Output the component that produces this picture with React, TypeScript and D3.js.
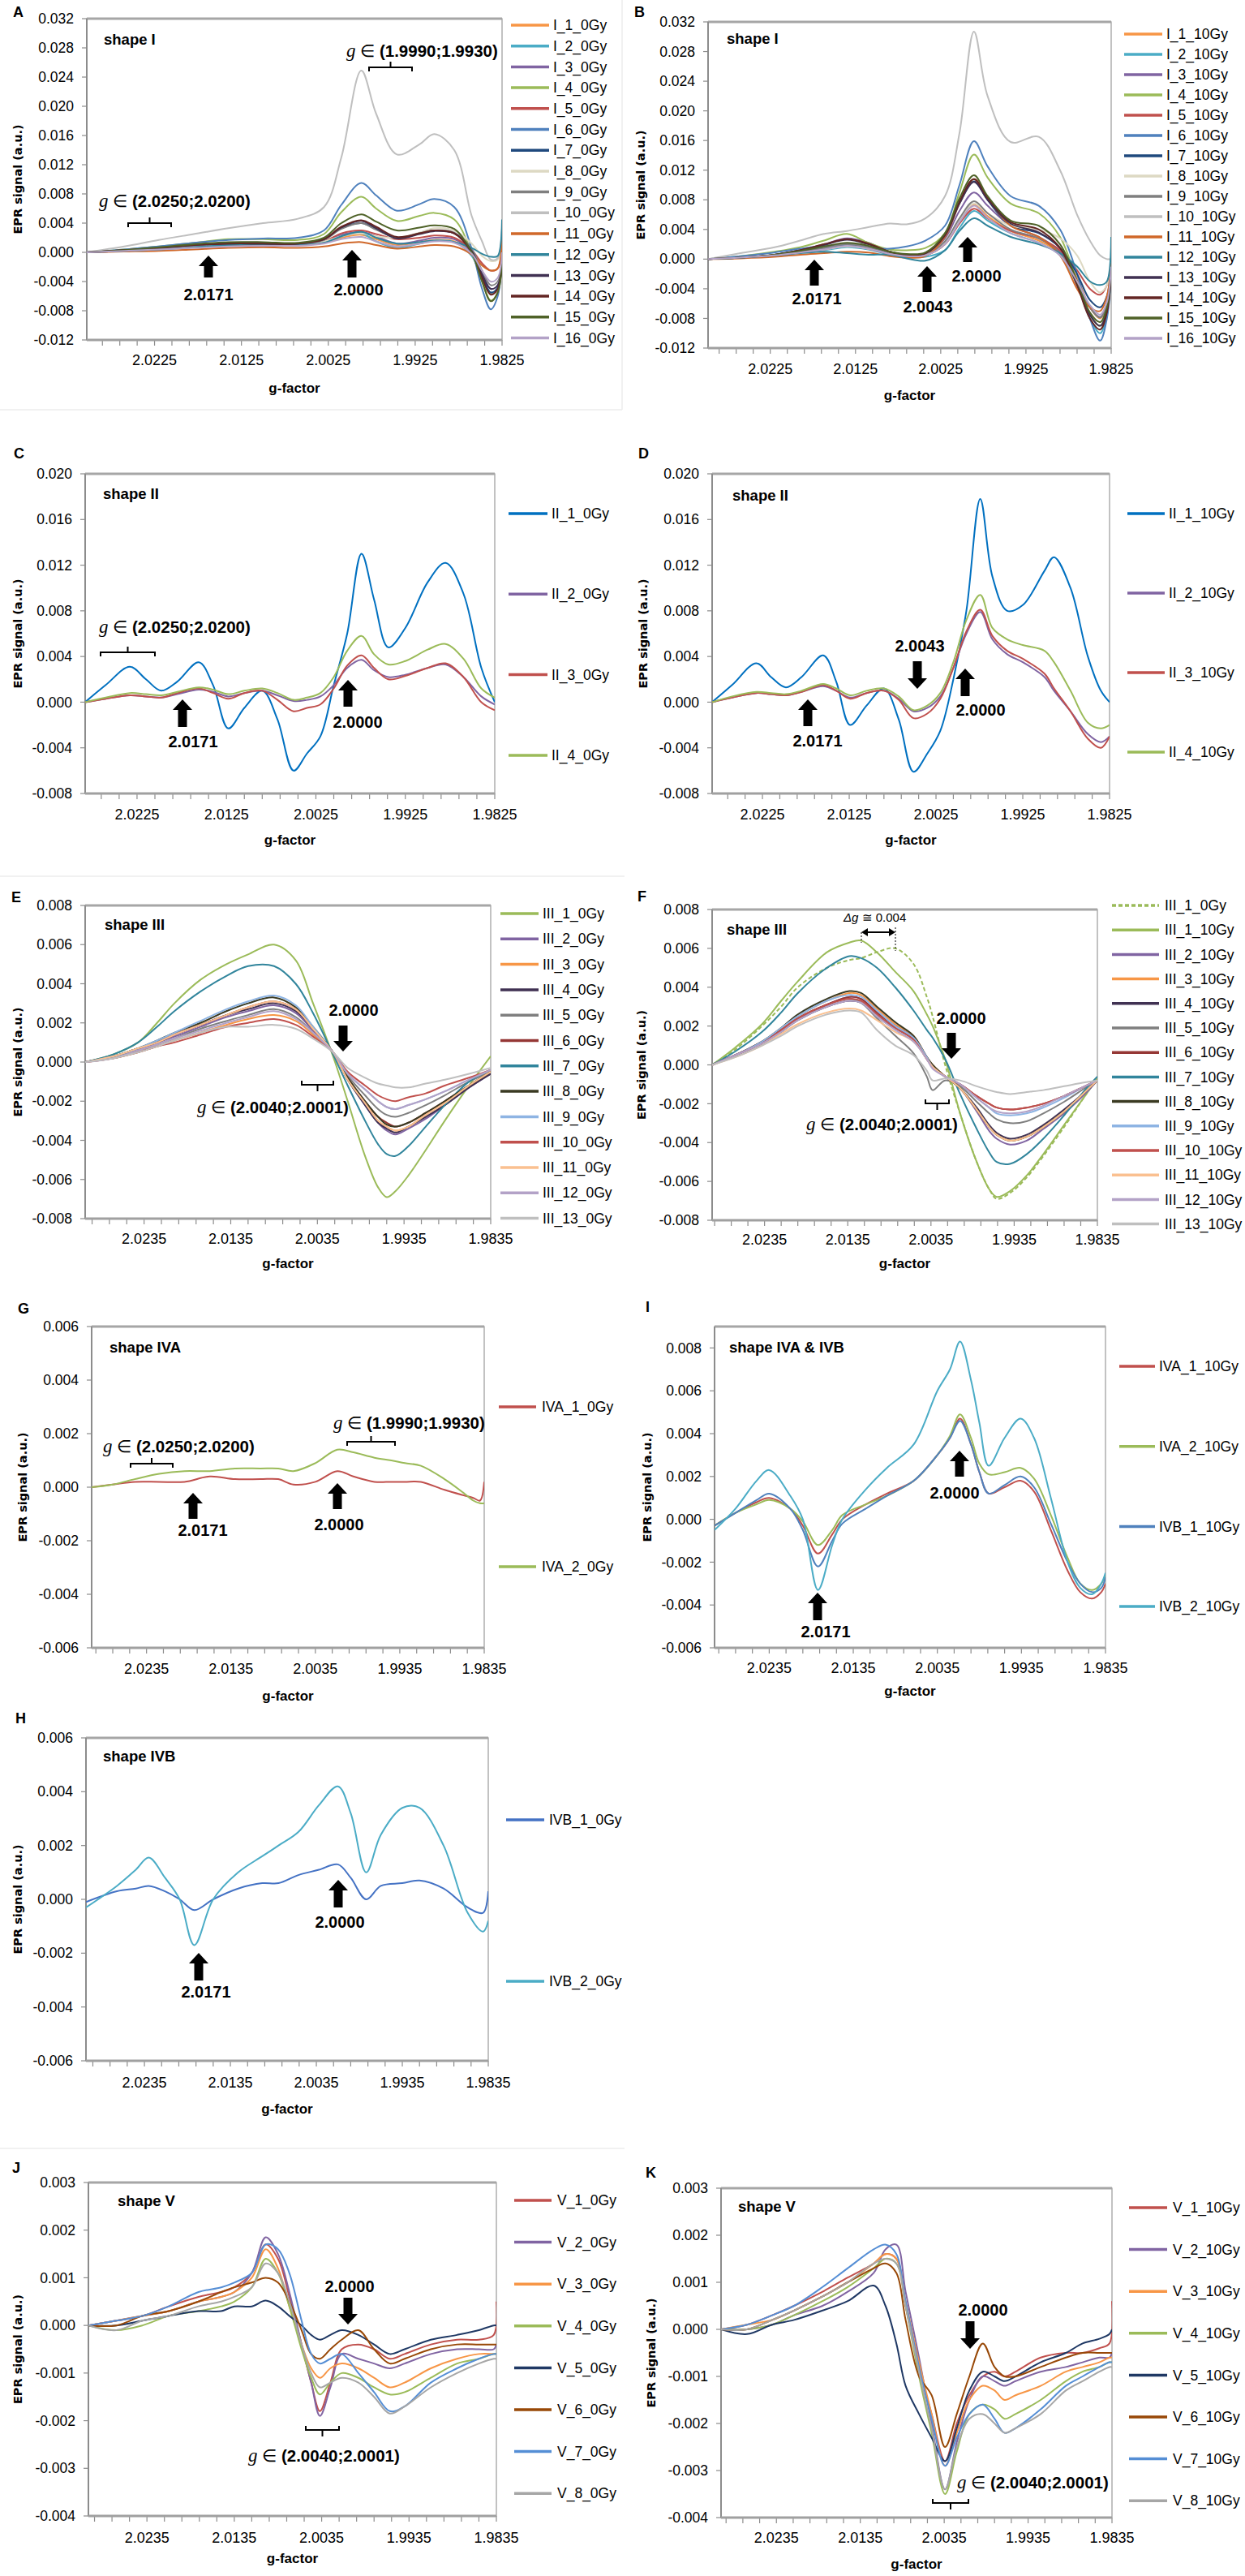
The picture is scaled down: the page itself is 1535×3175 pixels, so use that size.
import React from "react";
import * as d3 from "d3";

const FONT = "'Liberation Sans', Arial, sans-serif";
const TITLE_FONT = "'DejaVu Sans', Verdana, sans-serif";

// ================= DATA =================
// ---- Panel A : shape I, 0 Gy ----
const gA = [2.0303, 2.026, 2.022, 2.018, 2.014, 2.01, 2.006, 2.003, 2.001, 1.9987, 1.997, 1.9946, 1.992, 1.9903, 1.988, 1.986, 1.9848, 1.9838, 1.983, 1.9825];
const namesA = ["I_1_0Gy", "I_2_0Gy", "I_3_0Gy", "I_4_0Gy", "I_5_0Gy", "I_6_0Gy", "I_7_0Gy", "I_8_0Gy", "I_9_0Gy", "I_10_0Gy", "I_11_0Gy", "I_12_0Gy", "I_13_0Gy", "I_14_0Gy", "I_15_0Gy", "I_16_0Gy"];
const valuesA = [
  [0, 0.0002, 0.0004, 0.0007, 0.0009, 0.001, 0.001, 0.0013, 0.002, 0.0024, 0.0018, 0.001, 0.0014, 0.0017, 0.0015, -0.0003, -0.0035, -0.0057, -0.005, -0.0008],
  [0, 0.0002, 0.0004, 0.0007, 0.0009, 0.001, 0.001, 0.0013, 0.0022, 0.0026, 0.0015, 0.0006, 0.0012, 0.0016, 0.0014, -0.0005, -0.0035, -0.0055, -0.005, -0.0005],
  [0, 0.0002, 0.0005, 0.0008, 0.001, 0.0011, 0.0011, 0.0015, 0.0024, 0.0028, 0.0022, 0.0012, 0.0016, 0.002, 0.0018, 0, -0.003, -0.005, -0.0045, -0.0005],
  [0, 0.0004, 0.0008, 0.0013, 0.0018, 0.0018, 0.0017, 0.0025, 0.0055, 0.0076, 0.006, 0.0043, 0.005, 0.0054, 0.0045, 0, -0.004, -0.0066, -0.0055, -0.001],
  [0, 0.0002, 0.0005, 0.0008, 0.001, 0.0011, 0.0011, 0.0015, 0.0026, 0.003, 0.0025, 0.0018, 0.002, 0.0023, 0.002, 0.0003, -0.0015, -0.0025, -0.0022, 0.001],
  [0, 0.0004, 0.0008, 0.0013, 0.0017, 0.0019, 0.002, 0.003, 0.0065, 0.0095, 0.0078, 0.0057, 0.0066, 0.0073, 0.0062, 0.0005, -0.005, -0.0078, -0.006, 0],
  [0, 0.0003, 0.0006, 0.001, 0.0013, 0.0013, 0.0012, 0.0018, 0.0033, 0.004, 0.0032, 0.002, 0.0026, 0.003, 0.0026, 0.0002, -0.0032, -0.0055, -0.0048, -0.0008],
  [0, 0.0003, 0.0006, 0.0009, 0.0011, 0.0011, 0.0011, 0.0015, 0.0022, 0.0026, 0.0022, 0.002, 0.0027, 0.0033, 0.003, 0.0012, -0.0005, -0.0012, -0.001, 0.001],
  [0, 0.0003, 0.0006, 0.0009, 0.0012, 0.0012, 0.0011, 0.0017, 0.0032, 0.004, 0.0031, 0.002, 0.0026, 0.003, 0.0027, 0.0005, -0.0025, -0.0045, -0.004, -0.0005],
  [0, 0.0008, 0.0017, 0.0025, 0.0033, 0.004, 0.0046, 0.0062, 0.013, 0.0249, 0.019, 0.0134, 0.0148, 0.0162, 0.014, 0.005, 0.0015, -0.001, -0.0008, 0.004],
  [0, 0.0001, 0.0002, 0.0004, 0.0006, 0.0007, 0.0006, 0.0008, 0.0012, 0.0014, 0.001, 0.0005, 0.0008, 0.001, 0.0008, -0.0003, -0.0018, -0.0025, -0.0022, 0.002],
  [0, 0.0002, 0.0004, 0.0007, 0.001, 0.0011, 0.001, 0.0013, 0.0022, 0.0028, 0.002, 0.0012, 0.0014, 0.0016, 0.0014, 0.0006, -0.0002, -0.0006, -0.0005, 0.0045],
  [0, 0.0003, 0.0006, 0.001, 0.0012, 0.0012, 0.0012, 0.0018, 0.0034, 0.0043, 0.0033, 0.0019, 0.0025, 0.0029, 0.0026, 0.0002, -0.003, -0.005, -0.0045, -0.0008],
  [0, 0.0003, 0.0006, 0.001, 0.0012, 0.0012, 0.0012, 0.0018, 0.0035, 0.0044, 0.0035, 0.0021, 0.0026, 0.003, 0.0026, 0, -0.0035, -0.0058, -0.005, -0.001],
  [0, 0.0003, 0.0007, 0.0011, 0.0014, 0.0014, 0.0013, 0.002, 0.004, 0.0052, 0.0042, 0.003, 0.0034, 0.0037, 0.0032, 0, -0.004, -0.0067, -0.0055, -0.001],
  [0, 0.0002, 0.0004, 0.0006, 0.0008, 0.0009, 0.0009, 0.0012, 0.0018, 0.0021, 0.0015, 0.0008, 0.0012, 0.0015, 0.0013, -0.0002, -0.0025, -0.004, -0.0035, 0],
];

// ---- Panel B : shape I, 10 Gy ----
const gB = [2.0298, 2.026, 2.022, 2.019, 2.0162, 2.0135, 2.011, 2.0085, 2.0065, 2.0043, 2.002, 2.0003, 1.9986, 1.997, 1.9943, 1.991, 1.9885, 1.9865, 1.985, 1.9838, 1.983, 1.9825];
const namesB = ["I_1_10Gy", "I_2_10Gy", "I_3_10Gy", "I_4_10Gy", "I_5_10Gy", "I_6_10Gy", "I_7_10Gy", "I_8_10Gy", "I_9_10Gy", "I_10_10Gy", "I_11_10Gy", "I_12_10Gy", "I_13_10Gy", "I_14_10Gy", "I_15_10Gy", "I_16_10Gy"];
const valuesB = [
  [0, 0.0002, 0.0005, 0.0009, 0.0013, 0.0018, 0.0014, 0.0007, 0.0004, 0.0005, 0.002, 0.005, 0.0073, 0.0058, 0.0038, 0.0025, 0.0008, -0.0025, -0.0065, -0.008, -0.006, -0.001],
  [0, 0.0002, 0.0005, 0.0009, 0.0012, 0.0016, 0.0013, 0.0006, 0.0003, 0.0003, 0.0012, 0.0042, 0.0065, 0.0052, 0.0035, 0.0022, 0.0005, -0.0035, -0.008, -0.01, -0.0075, -0.0015],
  [0, 0.0002, 0.0006, 0.0012, 0.002, 0.0028, 0.0022, 0.001, 0.0006, 0.0007, 0.0028, 0.0065, 0.009, 0.0072, 0.0045, 0.003, 0.001, -0.003, -0.0065, -0.0078, -0.006, -0.001],
  [0, 0.0004, 0.001, 0.0016, 0.0025, 0.0034, 0.0022, 0.0013, 0.0012, 0.0015, 0.0035, 0.009, 0.0141, 0.011, 0.0075, 0.0062, 0.003, -0.003, -0.0075, -0.009, -0.007, -0.001],
  [0, 0.0002, 0.0005, 0.0009, 0.0013, 0.0018, 0.0014, 0.0007, 0.0004, 0.0005, 0.002, 0.0048, 0.0068, 0.0055, 0.0038, 0.0028, 0.0012, -0.0015, -0.004, -0.0048, -0.0035, -0.0005],
  [0, 0.0004, 0.0009, 0.0014, 0.0018, 0.0018, 0.0015, 0.0014, 0.0017, 0.0025, 0.0045, 0.01, 0.0159, 0.0125, 0.0085, 0.0072, 0.004, -0.002, -0.008, -0.011, -0.008, -0.002],
  [0, 0.0002, 0.0005, 0.001, 0.0015, 0.002, 0.0016, 0.0009, 0.0006, 0.0008, 0.0032, 0.0075, 0.0105, 0.008, 0.0045, 0.0035, 0.0015, -0.002, -0.0055, -0.0065, -0.005, -0.0005],
  [0, 0.0002, 0.0005, 0.0009, 0.0013, 0.0017, 0.0014, 0.0008, 0.0005, 0.0006, 0.0022, 0.0052, 0.0075, 0.0062, 0.0045, 0.004, 0.0028, 0.0005, -0.003, -0.0045, -0.0035, -0.0005],
  [0, 0.0002, 0.0005, 0.001, 0.0015, 0.002, 0.0016, 0.0008, 0.0005, 0.0006, 0.0024, 0.0055, 0.0078, 0.0062, 0.004, 0.0028, 0.0008, -0.003, -0.0065, -0.0079, -0.006, -0.001],
  [0, 0.0008, 0.0016, 0.0025, 0.0034, 0.0038, 0.0043, 0.0048, 0.0047, 0.0055, 0.0085, 0.017, 0.0307, 0.022, 0.0158, 0.0165, 0.012, 0.006, 0.0025, 0.0005, 0, 0],
  [0, 0.0001, 0.0003, 0.0006, 0.0008, 0.001, 0.0009, 0.0004, 0.0002, 0.0004, 0.003, 0.0075, 0.0108, 0.0082, 0.0045, 0.003, 0.0005, -0.004, -0.0065, -0.007, -0.005, -0.0005],
  [0, 0.0002, 0.0005, 0.0008, 0.001, 0.0008, 0.0006, 0.0006, 0.0001, -0.0002, 0.0012, 0.0038, 0.0055, 0.0045, 0.003, 0.002, 0.0008, -0.001, -0.003, -0.0035, -0.003, 0.003],
  [0, 0.0002, 0.0006, 0.0012, 0.0019, 0.0026, 0.002, 0.001, 0.0006, 0.0008, 0.0032, 0.0075, 0.0104, 0.008, 0.0048, 0.0036, 0.0015, -0.003, -0.0075, -0.009, -0.007, -0.0015],
  [0, 0.0002, 0.0006, 0.0012, 0.002, 0.0027, 0.0021, 0.001, 0.0006, 0.0008, 0.0033, 0.0078, 0.0108, 0.0083, 0.005, 0.004, 0.0015, -0.0035, -0.008, -0.0095, -0.0072, -0.0015],
  [0, 0.0002, 0.0006, 0.0011, 0.0017, 0.0022, 0.0018, 0.001, 0.0007, 0.0009, 0.0035, 0.0082, 0.0113, 0.0085, 0.0052, 0.0045, 0.002, -0.003, -0.0072, -0.0085, -0.0065, -0.001],
  [0, 0.0002, 0.0005, 0.0009, 0.0013, 0.0018, 0.0014, 0.0007, 0.0004, 0.0005, 0.002, 0.005, 0.0072, 0.0056, 0.0035, 0.0022, 0.0005, -0.003, -0.0062, -0.0075, -0.0058, -0.001],
];

// ---- Panel C : shape II, 0 Gy ----
const gC = [2.0283, 2.026, 2.0233, 2.0215, 2.0198, 2.018, 2.0156, 2.014, 2.0123, 2.0105, 2.0085, 2.0068, 2.005, 2.0035, 2.002, 2.0005, 1.999, 1.9974, 1.996, 1.9944, 1.9925, 1.99, 1.988, 1.986, 1.984, 1.9825];
const namesC = ["II_1_0Gy", "II_2_0Gy", "II_3_0Gy", "II_4_0Gy"];
const valuesC = [
  [0, 0.0015, 0.0031, 0.002, 0.001, 0.0018, 0.0035, 0.0015, -0.0023, -0.0005, 0.001, -0.0015, -0.006, -0.0045, -0.003, 0.0015, 0.006, 0.013, 0.009, 0.0048, 0.0065, 0.0105, 0.0122, 0.0095, 0.003, 0],
  [0, 0.0003, 0.0006, 0.0005, 0.0004, 0.0007, 0.0011, 0.0009, 0.0005, 0.0008, 0.001, 0.0006, 0.0001, 0.0002, 0.0005, 0.0015, 0.003, 0.0037, 0.0028, 0.0022, 0.0024, 0.003, 0.0033, 0.0022, 0.0005, -0.0002],
  [0, 0.0003, 0.0006, 0.0005, 0.0004, 0.0008, 0.0012, 0.0008, 0.0003, 0.0008, 0.001, 0.0002, -0.0008, -0.0005, -0.0002, 0.0012, 0.0032, 0.0041, 0.003, 0.002, 0.0023, 0.003, 0.0034, 0.0022, 0, -0.0007],
  [0, 0.0004, 0.0008, 0.0007, 0.0006, 0.0009, 0.0013, 0.0011, 0.0007, 0.001, 0.0012, 0.0008, 0.0002, 0.0004, 0.0008, 0.0022, 0.0045, 0.0058, 0.0042, 0.0033, 0.0036, 0.0046, 0.0051, 0.0038, 0.0012, 0.0004],
];

// ---- Panel D : shape II, 10 Gy ----
const gD = [2.0283, 2.026, 2.0232, 2.0215, 2.0198, 2.018, 2.0155, 2.014, 2.0124, 2.0105, 2.0085, 2.0068, 2.0051, 2.0035, 2.002, 2.0005, 1.999, 1.9974, 1.996, 1.9943, 1.9925, 1.99, 1.9889, 1.987, 1.985, 1.9835, 1.9825];
const namesD = ["II_1_10Gy", "II_2_10Gy", "II_3_10Gy", "II_4_10Gy"];
const valuesD = [
  [0, 0.0015, 0.0034, 0.0022, 0.0013, 0.0022, 0.0041, 0.0018, -0.002, -0.0003, 0.0012, -0.0015, -0.0061, -0.0045, -0.0025, 0.002, 0.008, 0.0178, 0.011, 0.008, 0.0085, 0.0115, 0.0127, 0.01, 0.004, 0.001, 0],
  [0, 0.0004, 0.0008, 0.0007, 0.0006, 0.0009, 0.0014, 0.001, 0.0004, 0.0008, 0.001, 0.0003, -0.0008, -0.0005, 0.0005, 0.003, 0.006, 0.0079, 0.0055, 0.0042, 0.0035, 0.0022, 0.001, -0.0008, -0.0028, -0.0035, -0.003],
  [0, 0.0004, 0.0008, 0.0007, 0.0006, 0.0009, 0.0015, 0.001, 0.0003, 0.0008, 0.001, 0.0002, -0.0014, -0.001, 0.0003, 0.003, 0.0062, 0.0081, 0.0058, 0.0045, 0.0038, 0.0025, 0.0012, -0.0008, -0.0032, -0.004, -0.003],
  [0, 0.0005, 0.0009, 0.0008, 0.0007, 0.001, 0.0016, 0.0012, 0.0006, 0.001, 0.0012, 0.0005, -0.0007, -0.0003, 0.0008, 0.0035, 0.0072, 0.0094, 0.0065, 0.0055, 0.005, 0.0045, 0.0035, 0.001, -0.0018, -0.0023, -0.002],
];

// ---- Panel E : shape III, 0 Gy ----
const gE = [2.0303, 2.027, 2.0242, 2.022, 2.02, 2.017, 2.014, 2.0115, 2.0085, 2.006, 2.004, 2.0017, 2.0, 1.998, 1.9965, 1.9955, 1.9945, 1.993, 1.991, 1.9888, 1.986, 1.9835];
const namesE = ["III_1_0Gy", "III_2_0Gy", "III_3_0Gy", "III_4_0Gy", "III_5_0Gy", "III_6_0Gy", "III_7_0Gy", "III_8_0Gy", "III_9_0Gy", "III_10_0Gy", "III_11_0Gy", "III_12_0Gy", "III_13_0Gy"];
const valuesE = [
  [0, 0.0004, 0.001, 0.002, 0.003, 0.0042, 0.005, 0.0055, 0.006, 0.0052, 0.003, 0.0003, -0.002, -0.0048, -0.0064, -0.0069, -0.0066, -0.0058, -0.0045, -0.003, -0.0012, 0.0003],
  [0, 0.0003, 0.0006, 0.001, 0.0013, 0.0018, 0.0023, 0.0026, 0.0029, 0.0025, 0.0016, 0.0005, -0.0009, -0.0022, -0.0031, -0.0035, -0.0037, -0.0034, -0.0029, -0.0022, -0.0013, -0.0006],
  [0, 0.0002, 0.0005, 0.0008, 0.0011, 0.0015, 0.0019, 0.0022, 0.0024, 0.0021, 0.0014, 0.0005, -0.0009, -0.0021, -0.003, -0.0033, -0.0035, -0.0033, -0.0027, -0.0021, -0.0012, -0.0005],
  [0, 0.0003, 0.0007, 0.001, 0.0014, 0.0019, 0.0024, 0.0027, 0.003, 0.0026, 0.0017, 0.0005, -0.0009, -0.0022, -0.0031, -0.0034, -0.0036, -0.0033, -0.0028, -0.0022, -0.0013, -0.0006],
  [0, 0.0003, 0.0006, 0.0009, 0.0012, 0.0017, 0.0021, 0.0024, 0.0027, 0.0023, 0.0015, 0.0005, -0.0007, -0.0017, -0.0024, -0.0027, -0.0028, -0.0026, -0.0022, -0.0017, -0.001, -0.0005],
  [0, 0.0003, 0.0007, 0.001, 0.0014, 0.0019, 0.0024, 0.0028, 0.0031, 0.0027, 0.0017, 0.0005, -0.0008, -0.002, -0.0028, -0.0031, -0.0033, -0.0031, -0.0026, -0.002, -0.0012, -0.0005],
  [0, 0.0004, 0.001, 0.0018, 0.0026, 0.0036, 0.0044, 0.0049, 0.0049, 0.004, 0.0025, 0.0004, -0.0012, -0.003, -0.0042, -0.0047, -0.0048, -0.0043, -0.0033, -0.0022, -0.001, -0.0004],
  [0, 0.0003, 0.0007, 0.0011, 0.0015, 0.002, 0.0026, 0.003, 0.0033, 0.0028, 0.0018, 0.0005, -0.0008, -0.002, -0.0028, -0.0032, -0.0033, -0.0031, -0.0026, -0.002, -0.0012, -0.0005],
  [0, 0.0003, 0.0007, 0.0011, 0.0015, 0.0021, 0.0027, 0.0031, 0.0034, 0.0029, 0.0018, 0.0005, -0.0006, -0.0014, -0.002, -0.0023, -0.0024, -0.0022, -0.0019, -0.0015, -0.0009, -0.0004],
  [0, 0.0002, 0.0005, 0.0008, 0.001, 0.0014, 0.0018, 0.002, 0.0022, 0.0019, 0.0013, 0.0005, -0.0005, -0.0012, -0.0017, -0.0019, -0.002, -0.0018, -0.0016, -0.0012, -0.0008, -0.0004],
  [0, 0.0003, 0.0007, 0.001, 0.0014, 0.0019, 0.0024, 0.0028, 0.0031, 0.0027, 0.0017, 0.0005, -0.0009, -0.0021, -0.003, -0.0033, -0.0035, -0.0033, -0.0027, -0.0021, -0.0012, -0.0005],
  [0, 0.0002, 0.0006, 0.0009, 0.0012, 0.0016, 0.002, 0.0023, 0.0026, 0.0022, 0.0015, 0.0005, -0.0006, -0.0014, -0.002, -0.0023, -0.0024, -0.0022, -0.0019, -0.0015, -0.0009, -0.0004],
  [0, 0.0002, 0.0005, 0.0008, 0.0011, 0.0015, 0.0018, 0.0018, 0.0019, 0.0017, 0.0012, 0.0005, -0.0003, -0.0008, -0.0011, -0.0012, -0.0013, -0.0013, -0.0011, -0.0009, -0.0006, -0.0003],
];

// ---- Panel F : shape III, 10 Gy ----
const gF = [2.0298, 2.027, 2.0238, 2.0215, 2.0195, 2.016, 2.0133, 2.0119, 2.01, 2.0078, 2.0056, 2.004, 2.0033, 2.0018, 2.0, 1.998, 1.9965, 1.9956, 1.994, 1.992, 1.99, 1.9875, 1.985, 1.9835];
const namesF = ["III_1_0Gy", "III_1_10Gy", "III_2_10Gy", "III_3_10Gy", "III_4_10Gy", "III_5_10Gy", "III_6_10Gy", "III_7_10Gy", "III_8_10Gy", "III_9_10Gy", "III_10_10Gy", "III_11_10Gy", "III_12_10Gy", "III_13_10Gy"];
const valuesF = [
  [0, 0.0008, 0.002, 0.003, 0.004, 0.005, 0.0054, 0.0055, 0.0058, 0.006, 0.0052, 0.0035, 0.0025, 0, -0.0025, -0.005, -0.0064, -0.0069, -0.0066, -0.0058, -0.0047, -0.0032, -0.0016, -0.0007],
  [0, 0.0009, 0.0021, 0.0033, 0.0043, 0.0058, 0.0063, 0.0064, 0.0058, 0.0048, 0.0038, 0.0026, 0.002, 0.0003, -0.0025, -0.005, -0.0064, -0.0068, -0.0065, -0.0057, -0.0046, -0.0031, -0.0016, -0.0007],
  [0, 0.0005, 0.0012, 0.0018, 0.0024, 0.0031, 0.0035, 0.0034, 0.0027, 0.002, 0.0014, 0.0004, -0.0001, -0.0006, -0.0012, -0.0024, -0.0034, -0.0038, -0.0041, -0.0039, -0.0033, -0.0025, -0.0015, -0.0008],
  [0, 0.0005, 0.0012, 0.0019, 0.0025, 0.0033, 0.0037, 0.0036, 0.0029, 0.0021, 0.0015, 0.0004, 0, -0.0006, -0.0012, -0.0023, -0.0032, -0.0036, -0.0039, -0.0037, -0.0032, -0.0024, -0.0014, -0.0008],
  [0, 0.0005, 0.0011, 0.0017, 0.0023, 0.003, 0.0033, 0.0032, 0.0025, 0.0019, 0.0013, 0.0003, -0.0001, -0.0006, -0.0012, -0.0022, -0.0031, -0.0035, -0.0038, -0.0036, -0.0031, -0.0023, -0.0014, -0.0008],
  [0, 0.0005, 0.0011, 0.0018, 0.0024, 0.0031, 0.0034, 0.0032, 0.0024, 0.0015, 0.0006, -0.0006, -0.0013, -0.0008, -0.0011, -0.0019, -0.0025, -0.0028, -0.003, -0.0029, -0.0025, -0.0019, -0.0012, -0.0008],
  [0, 0.0005, 0.0012, 0.0018, 0.0024, 0.0031, 0.0035, 0.0034, 0.0027, 0.002, 0.0014, 0.0004, -0.0001, -0.0006, -0.001, -0.0016, -0.002, -0.0022, -0.0023, -0.0022, -0.002, -0.0016, -0.0011, -0.0008],
  [0, 0.0007, 0.0017, 0.0027, 0.0037, 0.005, 0.0056, 0.0055, 0.005, 0.004, 0.0028, 0.0018, 0.0014, 0.0003, -0.0015, -0.0033, -0.0045, -0.005, -0.0051, -0.0046, -0.0038, -0.0026, -0.0013, -0.0006],
  [0, 0.0005, 0.0012, 0.0019, 0.0026, 0.0034, 0.0038, 0.0037, 0.003, 0.0022, 0.0015, 0.0004, 0, -0.0006, -0.0012, -0.0023, -0.0032, -0.0036, -0.0039, -0.0037, -0.0032, -0.0024, -0.0014, -0.0008],
  [0, 0.0005, 0.0012, 0.0019, 0.0025, 0.0033, 0.0036, 0.0035, 0.0028, 0.002, 0.0014, 0.0004, -0.0001, -0.0006, -0.001, -0.0017, -0.0022, -0.0025, -0.0026, -0.0025, -0.0022, -0.0017, -0.0011, -0.0008],
  [0, 0.0005, 0.0011, 0.0018, 0.0024, 0.0031, 0.0034, 0.0033, 0.0026, 0.0019, 0.0013, 0.0003, -0.0001, -0.0006, -0.001, -0.0016, -0.002, -0.0022, -0.0023, -0.0022, -0.002, -0.0016, -0.0011, -0.0008],
  [0, 0.0004, 0.001, 0.0016, 0.0021, 0.0027, 0.0029, 0.0028, 0.0023, 0.0017, 0.0012, 0.0003, -0.0001, -0.0006, -0.0012, -0.0023, -0.0032, -0.0036, -0.0039, -0.0037, -0.0032, -0.0024, -0.0014, -0.0008],
  [0, 0.0005, 0.0011, 0.0017, 0.0023, 0.003, 0.0033, 0.0032, 0.0025, 0.0018, 0.0012, 0.0003, -0.0002, -0.0006, -0.001, -0.0017, -0.0022, -0.0024, -0.0025, -0.0024, -0.0021, -0.0016, -0.0011, -0.0008],
  [0, 0.0004, 0.001, 0.0015, 0.002, 0.0026, 0.0028, 0.0027, 0.0018, 0.001, 0.0005, -0.0003, -0.0008, -0.0007, -0.0008, -0.0011, -0.0013, -0.0014, -0.0015, -0.0014, -0.0013, -0.0011, -0.0009, -0.0008],
];

// ---- Panel G : shape IVA, 0 Gy ----
const gG = [2.03, 2.0275, 2.0249, 2.022, 2.019, 2.016, 2.013, 2.01, 2.0079, 2.0061, 2.0035, 2.0009, 1.999, 1.9965, 1.9945, 1.9929, 1.991, 1.9882, 1.986, 1.9848, 1.984, 1.9835];
const namesG = ["IVA_1_0Gy", "IVA_2_0Gy"];
const valuesG = [
  [0, 0.0001, 0.0002, 0.0002, 0.0002, 0.0004, 0.0003, 0.0003, 0.0003, 0.0001, 0.0002, 0.0006, 0.0004, 0.0002, 0.0002, 0.0002, 0.0002, -0.0001, -0.0003, -0.0004, -0.0005, 0.0002],
  [0, 0.0001, 0.0003, 0.0005, 0.0006, 0.0006, 0.0007, 0.0007, 0.0007, 0.0006, 0.0009, 0.0014, 0.0013, 0.0011, 0.001, 0.0009, 0.0008, 0.0003, -0.0002, -0.0005, -0.0006, -0.0006],
];

// ---- Panel I : shape IVA & IVB, 10 Gy ----
const gI = [2.03, 2.0275, 2.025, 2.0235, 2.021, 2.0195, 2.0177, 2.016, 2.0148, 2.012, 2.0095, 2.0063, 2.0035, 2.002, 2.0008, 1.9995, 1.9985, 1.9974, 1.9955, 1.9936, 1.992, 1.99, 1.988, 1.9865, 1.9851, 1.984, 1.9835];
const namesI = ["IVA_1_10Gy", "IVA_2_10Gy", "IVB_1_10Gy", "IVB_2_10Gy"];
const valuesI = [
  [-0.0003, 0.0003, 0.0008, 0.001, 0.0005, -0.0003, -0.0016, -0.0007, 0, 0.0007, 0.0012, 0.0018, 0.003, 0.0038, 0.0047, 0.0035, 0.0022, 0.0012, 0.0015, 0.0018, 0.0013, -0.0005, -0.0024, -0.0034, -0.0037, -0.0034, -0.003],
  [-0.0003, 0.0003, 0.0007, 0.0009, 0.0005, -0.0001, -0.0012, -0.0005, 0.0002, 0.0007, 0.0011, 0.0018, 0.003, 0.0039, 0.0049, 0.0038, 0.0026, 0.0021, 0.0022, 0.0024, 0.0019, 0.0002, -0.0018, -0.003, -0.0033, -0.003, -0.0026],
  [-0.0003, 0.0003, 0.0009, 0.0012, 0.0005, -0.0005, -0.0022, -0.001, -0.0002, 0.0005, 0.0011, 0.0018, 0.003, 0.0038, 0.0046, 0.0035, 0.0022, 0.0012, 0.0016, 0.002, 0.0015, -0.0002, -0.002, -0.003, -0.0034, -0.0032, -0.0027],
  [-0.0005, 0.0005, 0.0018, 0.0023, 0.0011, 0, -0.0033, -0.0012, 0, 0.0014, 0.0024, 0.0035, 0.006, 0.007, 0.0083, 0.0065, 0.0045, 0.0025, 0.0038, 0.0047, 0.0038, 0.001, -0.002, -0.0032, -0.0035, -0.003, -0.0025],
];

// ---- Panel H : shape IVB, 0 Gy ----
const gH = [2.0303, 2.0267, 2.0245, 2.023, 2.0211, 2.0194, 2.0177, 2.0155, 2.0126, 2.0098, 2.0079, 2.0056, 2.0032, 2.001, 1.9995, 1.9977, 1.996, 1.9935, 1.9915, 1.9887, 1.9859, 1.9841, 1.9835];
const namesH = ["IVB_1_0Gy", "IVB_2_0Gy"];
const valuesH = [
  [-0.0001, 0.0003, 0.0004, 0.0005, 0.0003, 0, -0.0004, 0, 0.0004, 0.0006, 0.0006, 0.0009, 0.0011, 0.0013, 0.0008, 0, 0.0005, 0.0006, 0.0007, 0.0004, -0.0003, -0.0005, 0.0003],
  [-0.0003, 0.0005, 0.0011, 0.00155, 0.0008, 0, -0.0017, 0, 0.001, 0.0016, 0.002, 0.0025, 0.0035, 0.0042, 0.0032, 0.001, 0.0024, 0.0034, 0.0034, 0.002, -0.0005, -0.0012, -0.0008],
];

// ---- Panel J : shape V, 0 Gy ----
const gJ = [2.0302, 2.027, 2.024, 2.021, 2.0176, 2.015, 2.0135, 2.0115, 2.0099, 2.0085, 2.0072, 2.0058, 2.0047, 2.0037, 2.0025, 2.0012, 1.9993, 1.9975, 1.9957, 1.994, 1.991, 1.988, 1.9855, 1.9838, 1.9835];
const namesJ = ["V_1_0Gy", "V_2_0Gy", "V_3_0Gy", "V_4_0Gy", "V_5_0Gy", "V_6_0Gy", "V_7_0Gy", "V_8_0Gy"];
const valuesJ = [
  [0, 0.0001, 0.0002, 0.0004, 0.0006, 0.0007, 0.0008, 0.0011, 0.0017, 0.0014, 0.0006, -0.0004, -0.0012, -0.0018, -0.0012, -0.0005, -0.0004, -0.0005, -0.0007, -0.0006, -0.0004, -0.0003, -0.0003, -0.0002, 0.0005],
  [0, 0.0001, 0.0002, 0.0003, 0.0005, 0.0006, 0.0007, 0.0011, 0.00185, 0.0015, 0.0007, -0.0004, -0.0012, -0.0019, -0.0013, -0.0006, -0.0007, -0.0008, -0.0009, -0.0008, -0.0006, -0.0005, -0.0005, -0.0005, -0.0004],
  [0, 0.0001, 0.0002, 0.0003, 0.0005, 0.0006, 0.0007, 0.001, 0.0016, 0.0012, 0.0004, -0.0004, -0.0009, -0.0011, -0.0009, -0.0008, -0.0009, -0.0011, -0.0013, -0.0012, -0.0009, -0.0007, -0.0006, -0.0006, -0.0006],
  [0, -0.0001, 0, 0.0002, 0.0003, 0.0004, 0.0005, 0.0008, 0.0014, 0.0011, 0.0004, -0.0005, -0.0011, -0.00145, -0.0012, -0.001, -0.0011, -0.0013, -0.00145, -0.0014, -0.0011, -0.0008, -0.0007, -0.0006, -0.0006],
  [0, 0, 0.0001, 0.0002, 0.0003, 0.0003, 0.0004, 0.0004, 0.00052, 0.0004, 0.0002, 0, -0.0002, -0.0003, -0.0002, -0.0001, -0.0002, -0.0004, -0.0006, -0.0005, -0.0003, -0.0002, -0.0001, 0, 0],
  [0, 0, 0.0002, 0.0003, 0.0005, 0.0007, 0.0008, 0.0009, 0.001, 0.0009, 0.0005, -0.0001, -0.0006, -0.0007, -0.0005, -0.0003, -0.0001, -0.0005, -0.0008, -0.0007, -0.0005, -0.0004, -0.0004, -0.0004, -0.0004],
  [0, 0.0001, 0.0002, 0.0004, 0.0007, 0.0008, 0.0009, 0.0011, 0.0017, 0.0016, 0.0011, 0.0001, -0.0006, -0.0008, -0.0007, -0.0006, -0.001, -0.0014, -0.0018, -0.0017, -0.0012, -0.0009, -0.0007, -0.0006, -0.0006],
  [0, -0.0001, 0.0001, 0.0002, 0.0004, 0.0005, 0.0006, 0.0008, 0.0013, 0.0011, 0.0005, -0.0004, -0.001, -0.0013, -0.0012, -0.0011, -0.0012, -0.0015, -0.00185, -0.0017, -0.0013, -0.001, -0.0008, -0.0007, -0.0007],
];

// ---- Panel K : shape V, 10 Gy ----
const gK = [2.0301, 2.027, 2.024, 2.0214, 2.018, 2.015, 2.0119, 2.0105, 2.0092, 2.0081, 2.0065, 2.005, 2.0034, 2.002, 2.0005, 1.9989, 1.9975, 1.9963, 1.995, 1.992, 1.989, 1.987, 1.985, 1.9838, 1.9835];
const namesK = ["V_1_10Gy", "V_2_10Gy", "V_3_10Gy", "V_4_10Gy", "V_5_10Gy", "V_6_10Gy", "V_7_10Gy", "V_8_10Gy"];
const valuesK = [
  [0, 0.0001, 0.0003, 0.0005, 0.0008, 0.0011, 0.0014, 0.0016, 0.0015, 0.0005, -0.0008, -0.0018, -0.0028, -0.002, -0.0014, -0.001, -0.0009, -0.001, -0.0009, -0.0006, -0.0005, -0.0005, -0.0004, -0.0003, 0.0006],
  [0, 0, 0.0001, 0.0003, 0.0005, 0.0008, 0.0012, 0.0017, 0.0018, 0.0008, -0.0006, -0.002, -0.0034, -0.0024, -0.0015, -0.001, -0.0011, -0.0012, -0.0011, -0.0009, -0.0008, -0.0007, -0.0006, -0.0006, -0.0005],
  [0, 0.0001, 0.0002, 0.0004, 0.0007, 0.001, 0.0014, 0.0016, 0.0015, 0.0006, -0.0007, -0.0018, -0.0029, -0.0022, -0.0015, -0.0012, -0.0013, -0.0015, -0.0014, -0.0012, -0.0009, -0.0008, -0.0007, -0.0006, -0.0006],
  [0, 0, 0.0001, 0.0003, 0.0006, 0.0009, 0.0013, 0.0015, 0.0014, 0.0005, -0.001, -0.0022, -0.0035, -0.0026, -0.0018, -0.0016, -0.0017, -0.0019, -0.0018, -0.0015, -0.0011, -0.0009, -0.0008, -0.0007, -0.0007],
  [0, -0.0001, 0.0001, 0.0002, 0.0004, 0.0006, 0.00093, 0.0005, -0.0003, -0.0012, -0.0018, -0.0023, -0.0028, -0.0021, -0.0013, -0.0009, -0.001, -0.0011, -0.001, -0.0007, -0.0005, -0.0003, -0.0002, -0.0001, 0],
  [0, 0, 0.0002, 0.0004, 0.0007, 0.001, 0.0013, 0.0014, 0.0012, 0.0002, -0.001, -0.0014, -0.0025, -0.0018, -0.001, -0.0003, -0.0008, -0.001, -0.001, -0.0008, -0.0006, -0.0005, -0.0005, -0.0005, -0.0005],
  [0, 0.0001, 0.0003, 0.0005, 0.0009, 0.0013, 0.0017, 0.0018, 0.0016, 0.0006, -0.0008, -0.0019, -0.0029, -0.0023, -0.0018, -0.0016, -0.0019, -0.0022, -0.0021, -0.0017, -0.0012, -0.001, -0.0008, -0.0007, -0.0007],
  [0, 0, 0.0002, 0.0004, 0.0007, 0.001, 0.0014, 0.0015, 0.0014, 0.0005, -0.0009, -0.0021, -0.0034, -0.0025, -0.0019, -0.0018, -0.002, -0.0022, -0.0021, -0.0018, -0.0013, -0.0011, -0.0009, -0.0008, -0.0008],
];

// tick labels
const xLabelsI = [2.0225, 2.0125, 2.0025, 1.9925, 1.9825];
const xLabelsIII = [2.0235, 2.0135, 2.0035, 1.9935, 1.9835];

// ================= STYLES / LAYOUT =================
const colorsI = ["#F79646", "#4BACC6", "#8064A2", "#9BBB59", "#C0504D", "#4F81BD", "#1F497D", "#DDD9C3", "#7F7F7F", "#BFBFBF", "#D0682A", "#31859C", "#403152", "#632523", "#4F6228", "#B3A2C7"];
const colorsII = ["#0070C0", "#8064A2", "#C0504D", "#9BBB59"];
const colorsE = ["#9BBB59", "#8064A2", "#F79646", "#403152", "#7F7F7F", "#953735", "#31859C", "#3A3A22", "#8EB4E3", "#C0504D", "#FAC090", "#B3A2C7", "#BFBFBF"];
const colorsF = ["#9BBB59", ...colorsE];
const colorsV = ["#C0504D", "#8064A2", "#F79646", "#9BBB59", "#1F3864", "#984807", "#558ED5", "#A6A6A6"];

type Arrow = { x: number; y1: number; y2: number; dir: "up" | "down" };
type Label = { text: string; x: number; y: number };
type Bracket = { x0: number; x1: number; y: number; center: "up" | "down" };
type GText = { text: string; x: number; y: number };

interface Panel {
  letter: string; lx: number; ly: number;
  box: [number, number, number, number];
  gDom: [number, number]; yDom: [number, number]; yStep: number;
  xLabels: number[];
  xLabelY: number; gfY: number; titleX: number;
  shape: string; sx: number; sy: number;
  legend: { l0: number; l1: number; tx: number; y0: number; dy: number };
  grid: number[]; names: string[]; values: number[][]; colors: string[]; dashed?: number[];
  arrows: Arrow[]; labels: Label[]; brackets: Bracket[]; gtexts: GText[];
  extra?: "dg";
}

const panels: Panel[] = [
  {
    letter: "A", lx: 16, ly: 21, box: [107, 23, 619, 419], gDom: [2.0303, 1.9825], yDom: [-0.012, 0.032], yStep: 0.004,
    xLabels: xLabelsI, xLabelY: 450, gfY: 484, titleX: 22, shape: "shape I", sx: 128, sy: 49,
    legend: { l0: 630, l1: 677, tx: 682, y0: 31, dy: 25.7 },
    grid: gA, names: namesA, values: valuesA, colors: colorsI,
    arrows: [{ x: 257, y1: 315, y2: 342, dir: "up" }, { x: 434, y1: 308, y2: 342, dir: "up" }],
    labels: [{ text: "2.0171", x: 257, y: 363 }, { text: "2.0000", x: 442, y: 357 }],
    brackets: [{ x0: 455, x1: 508, y: 83, center: "up" }, { x0: 158, x1: 211, y: 275, center: "up" }],
    gtexts: [{ text: "(1.9990;1.9930)", x: 427, y: 63 }, { text: "(2.0250;2.0200)", x: 122, y: 248 }],
  },
  {
    letter: "B", lx: 782, ly: 21, box: [873, 27, 1370, 429], gDom: [2.0298, 1.9825], yDom: [-0.012, 0.032], yStep: 0.004,
    xLabels: xLabelsI, xLabelY: 461, gfY: 493, titleX: 790, shape: "shape I", sx: 896, sy: 48,
    legend: { l0: 1386, l1: 1433, tx: 1438, y0: 42, dy: 25 },
    grid: gB, names: namesB, values: valuesB, colors: colorsI,
    arrows: [{ x: 1004, y1: 320, y2: 352, dir: "up" }, { x: 1143, y1: 328, y2: 360, dir: "up" }, { x: 1193, y1: 292, y2: 323, dir: "up" }],
    labels: [{ text: "2.0171", x: 1007, y: 368 }, { text: "2.0043", x: 1144, y: 378 }, { text: "2.0000", x: 1204, y: 340 }],
    brackets: [], gtexts: [],
  },
  {
    letter: "C", lx: 17, ly: 565, box: [105, 584, 610, 978], gDom: [2.0283, 1.9825], yDom: [-0.008, 0.02], yStep: 0.004,
    xLabels: xLabelsI, xLabelY: 1010, gfY: 1041, titleX: 22, shape: "shape II", sx: 127, sy: 609,
    legend: { l0: 627, l1: 675, tx: 680, y0: 633, dy: 99.3 },
    grid: gC, names: namesC, values: valuesC, colors: colorsII,
    arrows: [{ x: 225, y1: 862, y2: 896, dir: "up" }, { x: 429, y1: 838, y2: 871, dir: "up" }],
    labels: [{ text: "2.0171", x: 238, y: 914 }, { text: "2.0000", x: 441, y: 890 }],
    brackets: [{ x0: 124, x1: 191, y: 804, center: "up" }],
    gtexts: [{ text: "(2.0250;2.0200)", x: 122, y: 773 }],
  },
  {
    letter: "D", lx: 787, ly: 565, box: [878, 584, 1368, 978], gDom: [2.0283, 1.9825], yDom: [-0.008, 0.02], yStep: 0.004,
    xLabels: xLabelsI, xLabelY: 1010, gfY: 1041, titleX: 793, shape: "shape II", sx: 903, sy: 611,
    legend: { l0: 1390, l1: 1436, tx: 1441, y0: 633, dy: 98 },
    grid: gD, names: namesD, values: valuesD, colors: colorsII,
    arrows: [{ x: 996, y1: 862, y2: 895, dir: "up" }, { x: 1131, y1: 815, y2: 849, dir: "down" }, { x: 1190, y1: 824, y2: 858, dir: "up" }],
    labels: [{ text: "2.0171", x: 1008, y: 913 }, { text: "2.0043", x: 1134, y: 796 }, { text: "2.0000", x: 1209, y: 875 }],
    brackets: [], gtexts: [],
  },
  {
    letter: "E", lx: 14, ly: 1112, box: [105, 1116, 605, 1502], gDom: [2.0303, 1.9835], yDom: [-0.008, 0.008], yStep: 0.002,
    xLabels: xLabelsIII, xLabelY: 1533, gfY: 1563, titleX: 22, shape: "shape III", sx: 129, sy: 1140,
    legend: { l0: 617, l1: 664, tx: 669, y0: 1126, dy: 31.3 },
    grid: gE, names: namesE, values: valuesE, colors: colorsE,
    arrows: [{ x: 423, y1: 1264, y2: 1296, dir: "down" }],
    labels: [{ text: "2.0000", x: 436, y: 1245 }],
    brackets: [{ x0: 372, x1: 411, y: 1337, center: "down" }],
    gtexts: [{ text: "(2.0040;2.0001)", x: 243, y: 1365 }],
  },
  {
    letter: "F", lx: 786, ly: 1111, box: [878, 1121, 1353, 1504], gDom: [2.0298, 1.9835], yDom: [-0.008, 0.008], yStep: 0.002,
    xLabels: xLabelsIII, xLabelY: 1534, gfY: 1563, titleX: 791, shape: "shape III", sx: 896, sy: 1146,
    legend: { l0: 1371, l1: 1429, tx: 1436, y0: 1116, dy: 30.2 },
    grid: gF, names: namesF, values: valuesF, colors: colorsF, dashed: [0],
    arrows: [{ x: 1173, y1: 1273, y2: 1305, dir: "down" }],
    labels: [{ text: "2.0000", x: 1185, y: 1255 }],
    brackets: [{ x0: 1141, x1: 1170, y: 1360, center: "down" }],
    gtexts: [{ text: "(2.0040;2.0001)", x: 994, y: 1386 }],
    extra: "dg",
  },
  {
    letter: "G", lx: 22, ly: 1619, box: [113, 1635, 597, 2031], gDom: [2.03, 1.9835], yDom: [-0.006, 0.006], yStep: 0.002,
    xLabels: xLabelsIII, xLabelY: 2063, gfY: 2096, titleX: 28, shape: "shape IVA", sx: 135, sy: 1661,
    legend: { l0: 615, l1: 661, tx: 668, y0: 1734, dy: 197 },
    grid: gG, names: namesG, values: valuesG, colors: ["#C0504D", "#9BBB59"],
    arrows: [{ x: 238, y1: 1840, y2: 1872, dir: "up" }, { x: 416, y1: 1828, y2: 1860, dir: "up" }],
    labels: [{ text: "2.0171", x: 250, y: 1886 }, { text: "2.0000", x: 418, y: 1879 }],
    brackets: [{ x0: 428, x1: 487, y: 1777, center: "up" }, { x0: 161, x1: 213, y: 1804, center: "up" }],
    gtexts: [{ text: "(1.9990;1.9930)", x: 411, y: 1754 }, { text: "(2.0250;2.0200)", x: 127, y: 1783 }],
  },
  {
    letter: "I", lx: 796, ly: 1617, box: [881, 1635, 1363, 2031], gDom: [2.03, 1.9835], yDom: [-0.006, 0.009], yStep: 0.002,
    xLabels: xLabelsIII, xLabelY: 2062, gfY: 2090, titleX: 798, shape: "shape IVA & IVB", sx: 899, sy: 1661,
    legend: { l0: 1380, l1: 1424, tx: 1429, y0: 1684, dy: 98.7 },
    grid: gI, names: namesI, values: valuesI, colors: ["#C0504D", "#9BBB59", "#4F81BD", "#4BACC6"],
    arrows: [{ x: 1008, y1: 1963, y2: 1997, dir: "up" }, { x: 1183, y1: 1788, y2: 1820, dir: "up" }],
    labels: [{ text: "2.0171", x: 1018, y: 2011 }, { text: "2.0000", x: 1177, y: 1840 }],
    brackets: [], gtexts: [],
  },
  {
    letter: "H", lx: 19, ly: 2124, box: [106, 2142, 602, 2540], gDom: [2.0303, 1.9835], yDom: [-0.006, 0.006], yStep: 0.002,
    xLabels: xLabelsIII, xLabelY: 2573, gfY: 2605, titleX: 22, shape: "shape IVB", sx: 127, sy: 2165,
    legend: { l0: 624, l1: 671, tx: 677, y0: 2243, dy: 199 },
    grid: gH, names: namesH, values: valuesH, colors: ["#4472C4", "#4BACC6"],
    arrows: [{ x: 245, y1: 2407, y2: 2441, dir: "up" }, { x: 417, y1: 2317, y2: 2351, dir: "up" }],
    labels: [{ text: "2.0171", x: 254, y: 2455 }, { text: "2.0000", x: 419, y: 2369 }],
    brackets: [], gtexts: [],
  },
  {
    letter: "J", lx: 15, ly: 2678, box: [109, 2690, 612, 3101], gDom: [2.0302, 1.9835], yDom: [-0.004, 0.003], yStep: 0.001,
    xLabels: xLabelsIII, xLabelY: 3134, gfY: 3159, titleX: 22, shape: "shape V", sx: 145, sy: 2713,
    legend: { l0: 634, l1: 680, tx: 687, y0: 2712, dy: 51.6 },
    grid: gJ, names: namesJ, values: valuesJ, colors: colorsV,
    arrows: [{ x: 429, y1: 2832, y2: 2865, dir: "down" }],
    labels: [{ text: "2.0000", x: 431, y: 2818 }],
    brackets: [{ x0: 377, x1: 418, y: 2995, center: "down" }],
    gtexts: [{ text: "(2.0040;2.0001)", x: 306, y: 3027 }],
  },
  {
    letter: "K", lx: 796, ly: 2684, box: [889, 2697, 1371, 3103], gDom: [2.0301, 1.9835], yDom: [-0.004, 0.003], yStep: 0.001,
    xLabels: xLabelsIII, xLabelY: 3134, gfY: 3166, titleX: 803, shape: "shape V", sx: 910, sy: 2720,
    legend: { l0: 1392, l1: 1439, tx: 1446, y0: 2721, dy: 51.6 },
    grid: gK, names: namesK, values: valuesK, colors: colorsV,
    arrows: [{ x: 1196, y1: 2861, y2: 2895, dir: "down" }],
    labels: [{ text: "2.0000", x: 1212, y: 2847 }],
    brackets: [{ x0: 1150, x1: 1194, y: 3085, center: "down" }],
    gtexts: [{ text: "(2.0040;2.0001)", x: 1180, y: 3060 }],
  },
];

// faint chart-area borders (left column)
const areaLines: [number, number, number, number][] = [
  [0, 505, 767, 505],
  [767, 0, 767, 505],
  [0, 1080, 770, 1080],
  [0, 2648, 770, 2648],
];

// ================= RENDER =================
function arrowPath(a: Arrow) {
  const hw = 12, sw = 5.5, hl = 13;
  const t = a.y1, b = a.y2;
  if (a.dir === "up") {
    return `M${a.x},${t} L${a.x + hw},${t + hl} L${a.x + sw},${t + hl} L${a.x + sw},${b} L${a.x - sw},${b} L${a.x - sw},${t + hl} L${a.x - hw},${t + hl} Z`;
  }
  return `M${a.x},${b} L${a.x + hw},${b - hl} L${a.x + sw},${b - hl} L${a.x + sw},${t} L${a.x - sw},${t} L${a.x - sw},${b - hl} L${a.x - hw},${b - hl} Z`;
}

function fmtY(v: number) {
  const r = Math.round(v * 1e6) / 1e6;
  return (Math.abs(r) < 1e-9 ? 0 : r).toFixed(3);
}

function PanelView({ p, idx }: { p: Panel; idx: number }) {
  const [x0, y0, x1, y1] = p.box;
  const x = d3.scaleLinear().domain(p.gDom).range([x0, x1]);
  const y = d3.scaleLinear().domain(p.yDom).range([y1, y0]);
  const yTicks: number[] = [];
  for (let i = 0; ; i++) {
    const v = p.yDom[0] + i * p.yStep;
    if (v > p.yDom[1] + 1e-9) break;
    yTicks.push(Math.round(v * 1e6) / 1e6);
  }
  const gEnd = p.gDom[1];
  const minor: number[] = [];
  for (let i = 0; ; i++) {
    const g = gEnd + i * 0.002;
    if (g > p.gDom[0] + 1e-9) break;
    minor.push(g);
  }
  const line = d3
    .line<[number, number]>()
    .x((d) => x(d[0]))
    .y((d) => y(d[1]))
    .curve(d3.curveCatmullRom.alpha(0.5));
  const clipId = `clip${idx}`;
  const cx = (x0 + x1) / 2;
  const cy = (y0 + y1) / 2;

  return (
    <g>
      <defs>
        <clipPath id={clipId}>
          <rect x={x0} y={y0 - 2} width={x1 - x0} height={y1 - y0 + 4} />
        </clipPath>
      </defs>
      <text x={p.lx} y={p.ly} fontFamily={FONT} fontWeight="bold" fontSize={18} fill="#000">
        {p.letter}
      </text>
      {/* plot frame */}
      <rect x={x0} y={y0} width={x1 - x0} height={y1 - y0} fill="#fff" stroke="#9a9a9a" strokeWidth={1.2} />
      <line x1={x0} x2={x1} y1={y0} y2={y0} stroke="#a6a6a6" strokeWidth={3} />
      <line x1={x0} x2={x0} y1={y0} y2={y1} stroke="#8c8c8c" strokeWidth={2} />
      {/* y ticks */}
      {yTicks.map((v) => (
        <g key={`y${v}`}>
          <line x1={x0 - 6} x2={x0} y1={y(v)} y2={y(v)} stroke="#8c8c8c" strokeWidth={1.2} />
          <text x={x0 - 16} y={y(v)} dy="0.35em" textAnchor="end" fontFamily={FONT} fontSize={17.5} fill="#000">
            {fmtY(v)}
          </text>
        </g>
      ))}
      {/* x axis */}
      {minor.map((g) => (
        <line key={`m${g}`} x1={x(g)} x2={x(g)} y1={y1} y2={y1 + 7} stroke="#8c8c8c" strokeWidth={1.2} />
      ))}
      <line x1={x0} x2={x1} y1={y1} y2={y1} stroke="#a0a0a0" strokeWidth={3} />
      {p.xLabels.map((g) => (
        <text key={`x${g}`} x={x(g)} y={p.xLabelY} textAnchor="middle" fontFamily={FONT} fontSize={18} fill="#000">
          {g.toFixed(4)}
        </text>
      ))}
      <text x={cx} y={p.gfY} textAnchor="middle" fontFamily={FONT} fontWeight="bold" fontSize={17} fill="#000">
        g-factor
      </text>
      <text
        transform={`translate(${p.titleX},${cy}) rotate(-90)`}
        textAnchor="middle"
        dy="0.35em"
        fontFamily={TITLE_FONT}
        fontWeight="bold"
        fontSize={14.5}
        fill="#000"
      >
        EPR signal (a.u.)
      </text>
      {/* series */}
      <g clipPath={`url(#${clipId})`}>
        {p.values.map((vals, i) => {
          const pts: [number, number][] = p.grid
            .map((g, k) => [g, vals[k]] as [number, number])
            .filter((d) => d[1] !== undefined);
          return (
            <path
              key={p.names[i]}
              d={line(pts) || ""}
              fill="none"
              stroke={p.colors[i]}
              strokeWidth={2}
              strokeDasharray={p.dashed && p.dashed.includes(i) ? "5 3" : undefined}
              strokeLinejoin="round"
            />
          );
        })}
      </g>
      {/* shape label */}
      <text x={p.sx} y={p.sy} dy="0.35em" fontFamily={FONT} fontWeight="bold" fontSize={18.5} fill="#000">
        {p.shape}
      </text>
      {/* legend */}
      {p.names.map((nm, i) => {
        const ly = p.legend.y0 + i * p.legend.dy;
        return (
          <g key={`lg${nm}${i}`}>
            <line
              x1={p.legend.l0}
              x2={p.legend.l1}
              y1={ly}
              y2={ly}
              stroke={p.colors[i]}
              strokeWidth={3.5}
              strokeDasharray={p.dashed && p.dashed.includes(i) ? "5 3" : undefined}
            />
            <text x={p.legend.tx} y={ly} dy="0.35em" fontFamily={FONT} fontSize={17.5} fill="#000">
              {nm}
            </text>
          </g>
        );
      })}
      {/* annotations */}
      {p.arrows.map((a, i) => (
        <path key={`ar${i}`} d={arrowPath(a)} fill="#000" />
      ))}
      {p.labels.map((l, i) => (
        <text key={`lb${i}`} x={l.x} y={l.y} dy="0.35em" textAnchor="middle" fontFamily={FONT} fontWeight="bold" fontSize={20} fill="#000">
          {l.text}
        </text>
      ))}
      {p.brackets.map((b, i) => {
        const m = (b.x0 + b.x1) / 2;
        const e = b.center === "up" ? 5 : -5;
        const c = b.center === "up" ? -7 : 8;
        return (
          <path
            key={`br${i}`}
            d={`M${b.x0},${b.y + e} L${b.x0},${b.y} L${b.x1},${b.y} L${b.x1},${b.y + e} M${m},${b.y} L${m},${b.y + c}`}
            fill="none"
            stroke="#000"
            strokeWidth={2}
          />
        );
      })}
      {p.gtexts.map((t, i) => (
        <text key={`gt${i}`} x={t.x} y={t.y} dy="0.35em" fontFamily={FONT} fontWeight="bold" fontSize={20.5} fill="#000">
          <tspan fontFamily="'Liberation Serif', serif" fontStyle="italic" fontWeight="normal" fontSize={23}>
            g
          </tspan>
          <tspan fontWeight="normal"> ∈ </tspan>
          <tspan>{t.text}</tspan>
        </text>
      ))}
      {p.extra === "dg" && (
        <g>
          <text x={1040} y={1131} dy="0.35em" fontFamily={FONT} fontSize={15} fill="#000">
            <tspan fontStyle="italic">Δg</tspan> ≅ 0.004
          </text>
          <line x1={1066} x2={1100} y1={1149} y2={1149} stroke="#000" strokeWidth={2} />
          <path d="M1062,1149 L1070,1144 L1070,1154 Z M1104,1149 L1096,1144 L1096,1154 Z" fill="#000" />
          <line x1={1062} x2={1062} y1={1149} y2={1162} stroke="#000" strokeWidth={1} strokeDasharray="2 2" />
          <line x1={1104} x2={1104} y1={1143} y2={1172} stroke="#000" strokeWidth={1} strokeDasharray="2 2" />
        </g>
      )}
    </g>
  );
}

export default function App() {
  return (
    <svg
      width={1535}
      height={3175}
      viewBox="0 0 1535 3175"
      style={{ position: "absolute", left: 0, top: 0, background: "#fff" }}
      xmlns="http://www.w3.org/2000/svg"
    >
      <rect x={0} y={0} width={1535} height={3175} fill="#fff" />
      {areaLines.map((l, i) => (
        <line key={`al${i}`} x1={l[0]} y1={l[1]} x2={l[2]} y2={l[3]} stroke="#ececec" strokeWidth={1.5} />
      ))}
      {panels.map((p, i) => (
        <PanelView key={p.letter} p={p} idx={i} />
      ))}
    </svg>
  );
}
